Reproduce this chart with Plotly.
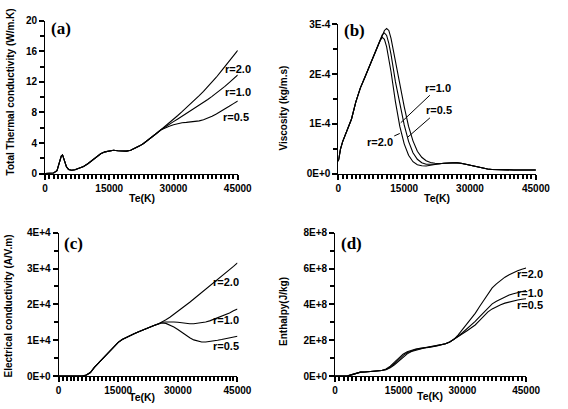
import plotly.graph_objects as go

W, H = 568, 409

# ---------------- data ----------------
# (a) Total thermal conductivity (W/m.K)
te_a = [0, 1000, 2000, 2800, 3400, 3800, 4100, 4500, 5000, 5500, 6200, 7000, 8000, 9000,
        10000, 11000, 12000, 13000, 14000, 15000, 16000, 17000, 18000, 19000, 20000,
        21000, 22000, 23000, 24000, 25000, 26000, 27000, 28000, 29000, 30000, 31000,
        32000, 33000, 34000, 35000, 36000, 37000, 38000, 39000, 40000, 41000, 42000,
        43000, 44000, 45000]
a_common = [0, 0.02, 0.08, 0.4, 1.4, 2.3, 2.45, 1.8, 0.9, 0.55, 0.45, 0.5, 0.7, 0.95,
            1.3, 1.75, 2.2, 2.6, 2.85, 3.0, 3.05, 3.0, 2.95, 2.95, 3.05,
            3.3, 3.6, 3.95, 4.35, 4.8, 5.25, 5.7]
a_r05 = a_common + [6.0, 6.2, 6.4, 6.55, 6.65, 6.7, 6.75, 6.8, 6.9, 7.05, 7.25, 7.5,
                    7.8, 8.1, 8.45, 8.8, 9.15, 9.5]
a_r10 = a_common + [6.1, 6.45, 6.8, 7.15, 7.5, 7.85, 8.2, 8.55, 8.9, 9.3, 9.7, 10.1,
                    10.5, 10.95, 11.4, 11.9, 12.4, 12.9]
a_r20 = a_common + [6.15, 6.6, 7.1, 7.6, 8.1, 8.6, 9.1, 9.65, 10.2, 10.75, 11.35, 11.95,
                    12.6, 13.3, 14.0, 14.7, 15.4, 16.1]

# (b) Viscosity (kg/m.s), in units of 1e-4
te_b = [0, 500, 1000, 2000, 3000, 4000, 5000, 6000, 7000, 8000, 9000, 9500, 10000, 10500,
        11000, 11500, 12000] + list(range(13000, 45001, 1000))
b_common = [0.25, 0.5, 0.65, 0.88, 1.1, 1.45, 1.72, 1.93, 2.15, 2.35, 2.55]
b_tail = [0.2, 0.21, 0.215, 0.22, 0.22, 0.21, 0.19, 0.17, 0.15, 0.13, 0.11, 0.095,
          0.085, 0.08] + [0.075] * 9
b_r20 = b_common + [2.68, 2.74, 2.7, 2.55, 2.32, 2.05, 1.45, 0.95, 0.6, 0.37, 0.24,
                    0.18, 0.16, 0.155, 0.17, 0.19] + b_tail
b_r10 = b_common + [2.7, 2.79, 2.83, 2.78, 2.62, 2.4, 1.85, 1.4, 0.98, 0.65, 0.42,
                    0.29, 0.22, 0.19, 0.185, 0.19] + b_tail
b_r05 = b_common + [2.7, 2.8, 2.88, 2.92, 2.88, 2.72, 2.25, 1.78, 1.35, 0.95, 0.66,
                    0.45, 0.33, 0.26, 0.225, 0.21] + b_tail

# (c) Electrical conductivity (A/V.m), in units of 1e4
te_c = list(range(0, 45001, 1000))
c_common = [0, 0, 0, 0, 0, 0, 0, 0.03, 0.1, 0.24, 0.36, 0.48, 0.6, 0.72, 0.84, 0.94,
            1.02, 1.08, 1.13, 1.18, 1.23, 1.28, 1.32, 1.37, 1.41, 1.45]
c_r20 = c_common + [1.5, 1.57, 1.64, 1.72, 1.8, 1.89, 1.98, 2.06, 2.15, 2.24, 2.33,
                    2.41, 2.5, 2.59, 2.68, 2.77, 2.87, 2.96, 3.06, 3.16]
c_r10 = c_common + [1.5, 1.51, 1.52, 1.51, 1.5, 1.48, 1.47, 1.46, 1.46, 1.47, 1.48,
                    1.51, 1.54, 1.58, 1.62, 1.66, 1.71, 1.76, 1.82, 1.87]
c_r05 = c_common + [1.48, 1.47, 1.43, 1.37, 1.3, 1.22, 1.14, 1.07, 1.01, 0.97, 0.95,
                    0.95, 0.96, 0.98, 1.0, 1.02, 1.04, 1.06, 1.08, 1.11]

# (d) Enthalpy (J/kg), in units of 1e8
te_d = list(range(0, 45001, 1000))
d_start = [0, 0, 0, 0.01, 0.08, 0.17, 0.22, 0.23, 0.24, 0.25, 0.27, 0.31]
d_mid = [1.57, 1.6, 1.64, 1.68, 1.73, 1.8, 1.9, 2.05]
d_r20 = d_start + [0.4, 0.55, 0.78, 1.02, 1.22, 1.36, 1.45, 1.51, 1.55] + d_mid + \
        [2.3, 2.6, 2.9, 3.2, 3.5, 3.87, 4.22, 4.6, 4.92, 5.15, 5.35, 5.52, 5.66, 5.78,
         5.88, 5.96, 6.03]
d_r10 = d_start + [0.37, 0.5, 0.7, 0.93, 1.14, 1.3, 1.41, 1.48, 1.53] + d_mid + \
        [2.22, 2.42, 2.62, 2.82, 3.05, 3.3, 3.55, 3.82, 4.03, 4.18, 4.3, 4.42, 4.52,
         4.6, 4.67, 4.73, 4.78]
d_r05 = d_start + [0.35, 0.46, 0.63, 0.85, 1.06, 1.24, 1.37, 1.45, 1.51] + d_mid + \
        [2.18, 2.35, 2.52, 2.68, 2.85, 3.1, 3.35, 3.58, 3.75, 3.88, 3.98, 4.07, 4.14,
         4.2, 4.25, 4.29, 4.32]

b_ticks = [0, 1e-4, 2e-4, 3e-4]
b_ticktext = ["0E+0", "1E-4", "2E-4", "3E-4"]
c_ticks = [0, 1e4, 2e4, 3e4, 4e4]
c_ticktext = ["0E+0", "1E+4", "2E+4", "3E+4", "4E+4"]
d_ticks = [0, 2e8, 4e8, 6e8, 8e8]
d_ticktext = ["0E+0", "2E+8", "4E+8", "6E+8", "8E+8"]
labels = ["r=2.0", "r=1.0", "r=0.5"]

# ---------------- figure ----------------
def px(x):
    return x / W

def py(y):
    return 1 - y / H

FONT = "Liberation Sans"
line_style = dict(color="black", width=1.1)

fig = go.Figure()
series = [
    ("x", "y", te_a, [a_r20, a_r10, a_r05], 1),
    ("x2", "y2", te_b, [b_r20, b_r10, b_r05], 1e-4),
    ("x3", "y3", te_c, [c_r20, c_r10, c_r05], 1e4),
    ("x4", "y4", te_d, [d_r20, d_r10, d_r05], 1e8),
]
for xa, ya, te, ys, scale in series:
    for name, vals in zip(labels, ys):
        fig.add_trace(go.Scatter(x=te, y=[v * scale for v in vals], mode="lines",
                                 line=line_style, name=name, showlegend=False,
                                 xaxis=xa, yaxis=ya))

tickfont = dict(family=FONT, size=10, color="black", weight="bold")
common = dict(showline=True, linecolor="black", linewidth=1, ticks="outside", ticklen=5,
              tickwidth=1.5, tickcolor="black", showgrid=False, zeroline=False,
              tickfont=tickfont)
minor_style = dict(ticks="outside", ticklen=4, tickcolor="black", tickwidth=1.5,
                   showgrid=False)

def xaxis(domain, anchor):
    return dict(domain=domain, anchor=anchor, range=[0, 45000], tickmode="linear",
                tick0=0, dtick=15000, tickformat="d",
                minor=dict(tickmode="linear", tick0=0, dtick=1000, **minor_style),
                **common)

def yaxis_lin(domain, anchor, rng, dt):
    return dict(domain=domain, anchor=anchor, range=rng, tickmode="linear", tick0=0,
                dtick=dt, minor=dict(tickmode="linear", tick0=0, dtick=dt / 2, **minor_style),
                **common)

def yaxis_arr(domain, anchor, rng, tv, tt):
    step = tv[1] - tv[0]
    mv = [tv[0] + step * (i + 0.5) for i in range(len(tv) - 1)]
    return dict(domain=domain, anchor=anchor, range=rng, tickmode="array",
                tickvals=tv, ticktext=tt,
                minor=dict(tickmode="array", tickvals=mv, **minor_style),
                **common)

fig.update_layout(
    width=W, height=H, margin=dict(l=0, r=0, t=0, b=0),
    paper_bgcolor="white", plot_bgcolor="white", showlegend=False,
    xaxis=xaxis([px(43.3), px(242)], "y"),
    yaxis=yaxis_lin([py(172.3), py(15)], "x", [0, 20], 4),
    xaxis2=xaxis([px(345.7), px(549.3)], "y2"),
    yaxis2=yaxis_arr([py(172.3), py(19)], "x2", [0, 3e-4], b_ticks, b_ticktext),
    xaxis3=xaxis([px(57.3), px(241.7)], "y3"),
    yaxis3=yaxis_arr([py(380.3), py(233)], "x3", [0, 4e4], c_ticks, c_ticktext),
    xaxis4=xaxis([px(342.3), px(539.3)], "y4"),
    yaxis4=yaxis_arr([py(380.3), py(233)], "x4", [0, 8e8], d_ticks, d_ticktext),
)

ann = []
def text(x, y, s, size=10, angle=0, family=FONT, **kw):
    ann.append(dict(x=px(x), y=py(y), xref="paper", yref="paper", text=s, showarrow=False,
                    textangle=angle, xanchor="center", yanchor="middle",
                    font=dict(family=family, size=size, color="black", weight="bold"), **kw))

# panel letters
for (x, y, s) in [(60, 23, "(a)"), (362, 25, "(b)"), (73, 244, "(c)"), (359, 244, "(d)")]:
    text(x, y, s, size=17, family="Liberation Serif")

# axis titles
text(8, 88, "Total Thermal conductivity (W/m.K)", size=10, angle=-90)
text(289, 105, "Viscosity (kg/m.s)", size=10, angle=-90)
text(6, 308, "Electrical conductivity (A/V.m)", size=10, angle=-90)
text(289, 314, "Enthalpy(J/kg)", size=10, angle=-90)
for (x, y) in [(143, 197), (447, 197), (143, 402), (440, 401)]:
    text(x, y, "Te(K)", size=10.5)

# curve labels
for (x, y, s) in [(242, 65, "r=2.0"), (242, 88, "r=1.0"), (240, 114, "r=0.5"),
                  (230, 284, "r=2.0"), (230, 323, "r=1.0"), (230, 349, "r=0.5"),
                  (543, 275, "r=2.0"), (543, 295, "r=1.0"), (543, 307, "r=0.5")]:
    text(x, y, s, size=11)

# labels with leader lines in (b)
for (tx, ty, ptx, pty, s) in [(447, 85, 410, 120, "r=1.0"), (448, 108, 417, 135, "r=0.5"),
                              (389, 140, 409, 131, "r=2.0")]:
    ann.append(dict(x=px(ptx), y=py(pty), xref="paper", yref="paper", text=s,
                    showarrow=True, arrowhead=0, arrowwidth=1, arrowcolor="black",
                    ax=tx - ptx, ay=ty - pty, axref="pixel", ayref="pixel",
                    font=dict(family=FONT, size=11, color="black", weight="bold")))

fig.update_layout(annotations=ann)
fig.write_html("out.html", config={"displayModeBar": False},
               post_script="document.body.style.margin='0';")
